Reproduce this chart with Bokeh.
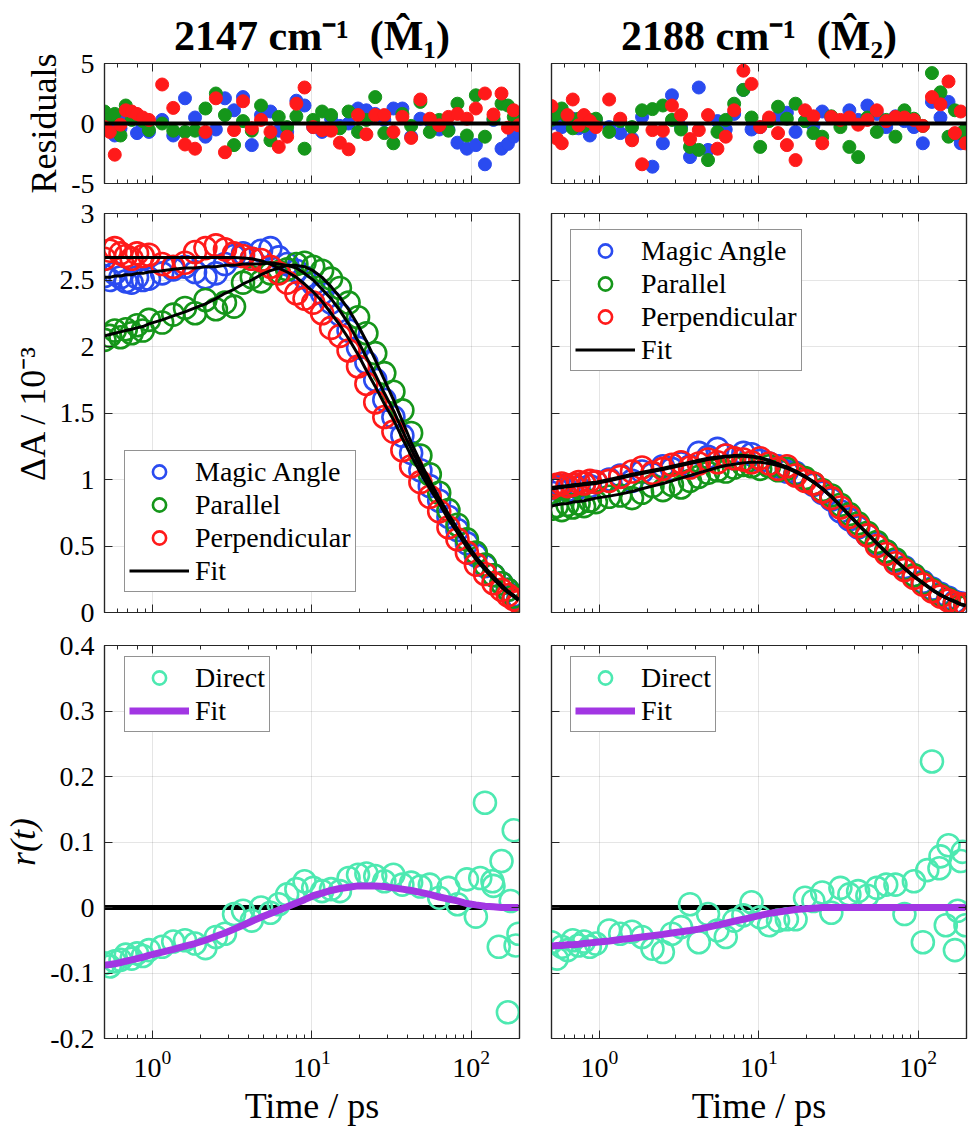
from bokeh.plotting import figure
from bokeh.models import (Range1d, LogAxis, LinearAxis, FixedTicker, LogTicker,
                          CustomJSTickFormatter, Legend, LegendItem, Span)
from bokeh.layouts import gridplot
from bokeh.embed import file_html
from bokeh.resources import INLINE

# ---------------- data ----------------
T = [0.5, 0.54, 0.58, 0.63, 0.68, 0.74, 0.8, 0.87, 0.95, 1.15,
     1.35, 1.6, 1.85, 2.15, 2.5, 2.85, 3.25, 3.7, 4.2, 4.8,
     5.5, 6.2, 7.0, 8.0, 9.0, 10.2, 11.6, 13.2, 15, 17,
     19.5, 22, 25, 28.5, 32.5, 37, 42, 48, 55, 63,
     72, 82, 94, 107, 122, 138, 155, 170, 185, 198]
T_TAIL = [114, 136, 149, 177, 190]
X_LIMITS = [0.5, 201]

titles = ["2147 cm\u207b\u00b9\u2002(M\u0302\u2081)", "2188 cm\u207b\u00b9\u2002(M\u0302\u2082)"]
series_names = ["Magic Angle", "Parallel", "Perpendicular", "Fit"]
aniso_names = ["Direct", "Fit"]

res_ticks = [-5, 0, 5]
da_ticks = [0, 0.5, 1, 1.5, 2, 2.5, 3]
r_ticks = [-0.2, -0.1, 0, 0.1, 0.2, 0.3, 0.4]

# residuals, 2147
res_magic_2147 = [-0.3, 0.2, -1.0, -0.4, 0.5, 0.8, -0.8, -0.3, -0.7, 0.3,
                  -1.0, 2.1, 0.5, -1.1, -0.5, 2.1, 1.1, 2.2, -1.8, 0.7,
                  1.0, -0.6, -0.7, 1.9, 1.5, -0.3, -0.7, 0.4, -0.2, 0.0,
                  1.25, 1.1, 0.8, 0.3, 1.25, 1.25, -1.1, 0.4, 0.2, -0.5,
                  -0.5, -1.6, -2.1, -1.8, -3.4, 0.3, -2.1, -1.7, -1.1, -0.7]
res_par_2147 = [1.0, 0.4, 0.8, -1.0, 1.5, 0.3, 0.5, 0.2, -0.55, 0.0,
                -0.6, -0.7, -0.6, 1.25, 2.5, 0.7, -1.8, 0.2, -0.6, 1.5,
                -1.4, 0.55, -0.3, 0.6, -2.1, 0.3, 1.0, 0.7, -0.4, 1.0,
                -0.7, 0.3, 2.2, -0.8, -1.65, 0.8, -0.2, 1.8, -0.7, 0.3,
                -0.6, 1.65, -1.0, 2.35, -1.1, 0.4, 1.65, 1.5, 0.55, 0.2]
res_perp_2147 = [-0.3, -0.7, -2.6, -0.1, 1.1, 1.0, 0.8, 0.5, 0.3, 3.25,
                 1.3, -1.75, -2.1, -0.7, 2.1, -2.4, -0.55, 1.85, -0.4, 0.3,
                 -0.7, -1.95, -1.1, 1.65, 3.0, -0.3, -0.55, -0.6, -1.6, -2.15,
                 0.7, -0.9, 0.7, 0.7, -0.7, 0.55, -1.2, 2.0, 0.4, -0.15,
                 0.55, 0.8, 0.4, 1.25, 2.5, 0.75, 2.5, -0.35, 1.1, -0.15]
# residuals, 2188
res_magic_2188 = [0.0, 0.6, -0.3, 0.2, 0.4, -0.4, -0.2, -1.0, 0.3, -0.3,
                  -0.8, -1.25, 0.55, -3.6, -1.65, 2.35, -0.3, -2.8, 3.0, -2.2,
                  0.2, -0.5, 0.8, 2.8, -0.5, -0.3, 0.3, 0.55, 0.9, -0.7,
                  0.2, -0.2, 1.0, 0.5, 0.1, 1.1, 0.3, 1.5, 0.8, -0.3,
                  0.6, 0.2, -0.3, -1.65, 1.8, 0.5, 1.8, -0.9, -1.65, -0.7]
res_par_2188 = [0.3, 0.8, 1.25, 0.5, -0.4, 0.4, -0.2, 0.3, 0.4, -0.7,
                0.2, -0.3, 1.1, 1.2, 1.5, 0.3, -0.5, -1.95, -2.2, -3.05,
                -0.7, 0.3, 1.65, 2.8, 0.5, -1.95, 0.2, 1.4, 0.4, 1.65,
                0.2, -0.8, -1.1, 0.6, -0.3, -1.95, -2.8, 0.5, -0.7, 0.3,
                -1.1, 1.1, 0.4, -0.2, 4.2, 2.6, -1.1, 1.1, -0.8, -0.5]
res_perp_2188 = [1.45, -1.25, -1.65, 0.7, 2.0, -0.15, 0.7, 0.2, -0.3, 2.0,
                 0.4, -1.4, -3.4, -0.55, -0.6, 1.5, 0.7, -1.3, -0.55, 0.7,
                 -2.1, -1.1, 1.1, 4.4, 3.3, -0.3, 0.5, -0.8, -1.8, -3.05,
                 1.1, 0.6, -1.65, 0.55, 0.3, 0.5, -0.1, 0.3, 1.1, 0.2,
                 0.55, 0.5, 0.3, -0.2, 2.2, 1.6, 3.5, -0.8, 1.0, -1.65]

# transient absorption (x 1e-3), 2147
magic_2147 = [2.53, 2.50, 2.55, 2.52, 2.49, 2.48, 2.52, 2.50, 2.51, 2.55,
              2.58, 2.60, 2.56, 2.52, 2.55, 2.62, 2.68, 2.70, 2.66, 2.72,
              2.74, 2.67, 2.62, 2.57, 2.52, 2.47, 2.40, 2.33, 2.24, 2.12,
              1.99, 1.88, 1.75, 1.60, 1.47, 1.33, 1.20, 1.07, 0.95, 0.84,
              0.72, 0.62, 0.52, 0.43, 0.35, 0.28, 0.22, 0.17, 0.13, 0.11]
par_2147 = [2.05, 2.08, 2.12, 2.07, 2.13, 2.10, 2.16, 2.12, 2.20, 2.18,
            2.24, 2.29, 2.25, 2.35, 2.28, 2.33, 2.30, 2.48, 2.52, 2.49,
            2.55, 2.56, 2.58, 2.62, 2.63, 2.60, 2.57, 2.51, 2.44, 2.33,
            2.22, 2.10, 1.95, 1.80, 1.66, 1.52, 1.35, 1.18, 1.04, 0.90,
            0.77, 0.66, 0.55, 0.45, 0.36, 0.28, 0.22, 0.17, 0.12, 0.09]
perp_2147 = [2.66, 2.72, 2.74, 2.70, 2.68, 2.66, 2.70, 2.68, 2.69, 2.62,
             2.60, 2.63, 2.71, 2.74, 2.76, 2.73, 2.70, 2.68, 2.66, 2.65,
             2.60, 2.55, 2.48, 2.40, 2.36, 2.33, 2.25, 2.14, 2.08, 1.97,
             1.85, 1.72, 1.58, 1.47, 1.36, 1.22, 1.10, 0.98, 0.87, 0.76,
             0.64, 0.55, 0.45, 0.36, 0.29, 0.22, 0.17, 0.13, 0.10, 0.08]
fit_magic_2147 = [2.52, 2.52, 2.53, 2.53, 2.54, 2.54, 2.55, 2.55, 2.56, 2.57,
                  2.58, 2.59, 2.59, 2.60, 2.60, 2.61, 2.61, 2.62, 2.62, 2.62,
                  2.63, 2.62, 2.61, 2.59, 2.55, 2.50, 2.43, 2.36, 2.27, 2.17,
                  2.04, 1.92, 1.79, 1.65, 1.52, 1.37, 1.23, 1.09, 0.96, 0.84,
                  0.72, 0.61, 0.50, 0.41, 0.33, 0.26, 0.20, 0.16, 0.12, 0.10]
fit_par_2147 = [2.08, 2.09, 2.10, 2.11, 2.12, 2.13, 2.14, 2.15, 2.17, 2.20,
                2.23, 2.26, 2.29, 2.32, 2.36, 2.40, 2.43, 2.47, 2.50, 2.54,
                2.57, 2.59, 2.61, 2.61, 2.60, 2.57, 2.52, 2.45, 2.37, 2.28,
                2.16, 2.04, 1.90, 1.75, 1.60, 1.44, 1.28, 1.13, 0.99, 0.86,
                0.74, 0.63, 0.52, 0.42, 0.34, 0.27, 0.21, 0.16, 0.13, 0.10]
fit_perp_2147 = [2.67, 2.67, 2.67, 2.67, 2.67, 2.67, 2.67, 2.67, 2.67, 2.67,
                 2.67, 2.67, 2.67, 2.67, 2.67, 2.67, 2.67, 2.665, 2.66, 2.645,
                 2.62, 2.59, 2.56, 2.52, 2.47, 2.41, 2.34, 2.25, 2.16, 2.06,
                 1.94, 1.82, 1.70, 1.57, 1.45, 1.31, 1.18, 1.05, 0.93, 0.82,
                 0.70, 0.60, 0.49, 0.40, 0.32, 0.25, 0.19, 0.15, 0.12, 0.09]

# transient absorption (x 1e-3), 2188
magic_2188 = [0.90, 0.93, 0.95, 0.92, 0.96, 0.94, 0.97, 0.95, 0.98, 1.00,
              1.03, 0.99, 1.06, 1.04, 1.10, 1.08, 1.12, 1.10, 1.20, 1.17,
              1.23, 1.18, 1.16, 1.20, 1.19, 1.14, 1.12, 1.10, 1.06, 1.05,
              1.00, 0.96, 0.90, 0.85, 0.76, 0.70, 0.64, 0.58, 0.52, 0.46,
              0.39, 0.34, 0.28, 0.23, 0.18, 0.14, 0.11, 0.08, 0.07, 0.06]
par_2188 = [0.78, 0.80, 0.77, 0.81, 0.79, 0.82, 0.80, 0.84, 0.83, 0.87,
            0.88, 0.86, 0.90, 0.95, 0.92, 0.96, 0.94, 0.99, 1.02, 1.05,
            1.07, 1.06, 1.09, 1.11, 1.10, 1.08, 1.10, 1.07, 1.08, 1.04,
            1.01, 0.97, 0.92, 0.88, 0.81, 0.74, 0.67, 0.60, 0.53, 0.46,
            0.40, 0.33, 0.28, 0.22, 0.17, 0.13, 0.10, 0.07, 0.05, 0.04]
perp_2188 = [0.94, 0.96, 0.97, 0.95, 0.96, 0.98, 0.97, 0.99, 0.98, 0.99,
             1.02, 1.06, 1.09, 1.05, 1.08, 1.11, 1.13, 1.09, 1.12, 1.15,
             1.13, 1.18, 1.16, 1.15, 1.13, 1.16, 1.12, 1.08, 1.10, 1.03,
             0.99, 0.97, 0.91, 0.86, 0.79, 0.72, 0.65, 0.58, 0.50, 0.44,
             0.37, 0.32, 0.26, 0.21, 0.16, 0.12, 0.09, 0.07, 0.06, 0.06]
fit_magic_2188 = [0.94, 0.945, 0.95, 0.955, 0.96, 0.965, 0.97, 0.975, 0.98, 1.00,
                  1.02, 1.04, 1.055, 1.07, 1.085, 1.10, 1.115, 1.13, 1.145, 1.16,
                  1.17, 1.175, 1.18, 1.18, 1.175, 1.165, 1.145, 1.12, 1.095, 1.065,
                  1.025, 0.985, 0.935, 0.875, 0.805, 0.735, 0.665, 0.595, 0.525, 0.455,
                  0.395, 0.335, 0.275, 0.225, 0.175, 0.135, 0.105, 0.085, 0.065, 0.055]
fit_par_2188 = [0.80, 0.81, 0.815, 0.82, 0.83, 0.835, 0.84, 0.85, 0.86, 0.875,
                0.89, 0.91, 0.93, 0.95, 0.97, 0.99, 1.01, 1.03, 1.05, 1.07,
                1.09, 1.105, 1.115, 1.125, 1.13, 1.13, 1.12, 1.105, 1.085, 1.055,
                1.02, 0.98, 0.93, 0.87, 0.80, 0.73, 0.66, 0.59, 0.52, 0.45,
                0.39, 0.33, 0.27, 0.22, 0.17, 0.13, 0.10, 0.08, 0.06, 0.05]
fit_perp_2188 = [0.93, 0.935, 0.94, 0.945, 0.95, 0.955, 0.96, 0.965, 0.97, 0.99,
                 1.01, 1.03, 1.045, 1.06, 1.075, 1.09, 1.105, 1.12, 1.135, 1.15,
                 1.16, 1.17, 1.175, 1.175, 1.17, 1.16, 1.14, 1.115, 1.09, 1.06,
                 1.02, 0.98, 0.93, 0.87, 0.80, 0.73, 0.66, 0.59, 0.52, 0.45,
                 0.39, 0.33, 0.27, 0.22, 0.17, 0.13, 0.10, 0.08, 0.06, 0.05]

# anisotropy r(t)
direct_2147 = [-0.085, -0.090, -0.082, -0.080, -0.072, -0.078, -0.070, -0.074, -0.065, -0.060,
               -0.052, -0.050, -0.055, -0.062, -0.045, -0.040, -0.010, -0.005, -0.020, 0.000,
               -0.008, 0.005, 0.020, 0.028, 0.040, 0.030, 0.025, 0.028, 0.025, 0.045,
               0.050, 0.052, 0.048, 0.040, 0.050, 0.035, 0.038, 0.032, 0.035, 0.015,
               0.030, 0.005, 0.043, -0.014, 0.160, 0.033, 0.071, -0.160, 0.118, -0.040]
direct_tail_2147 = [0.045, 0.040, -0.060, 0.010, -0.058]
fit_r_2147 = [-0.088, -0.087, -0.086, -0.084, -0.082, -0.080, -0.078, -0.076, -0.073, -0.068,
              -0.064, -0.059, -0.055, -0.050, -0.044, -0.039, -0.033, -0.027, -0.021, -0.015,
              -0.009, -0.004, 0.001, 0.007, 0.012, 0.018, 0.022, 0.026, 0.029, 0.031,
              0.033, 0.033, 0.033, 0.032, 0.030, 0.028, 0.026, 0.023, 0.020, 0.016,
              0.013, 0.010, 0.006, 0.004, 0.002, 0.001, 0.0, 0.0, 0.0, 0.0]
direct_2188 = [-0.053, -0.078, -0.060, -0.065, -0.050, -0.058, -0.052, -0.060, -0.055, -0.035,
               -0.040, -0.037, -0.045, -0.063, -0.068, -0.040, -0.030, 0.005, -0.053, -0.010,
               -0.035, -0.045, -0.020, -0.012, 0.008, -0.015, -0.027, -0.020, -0.018, -0.018,
               0.015, 0.010, 0.023, -0.008, 0.030, 0.020, 0.025, 0.018, 0.030, 0.035,
               0.035, -0.010, 0.040, -0.053, 0.223, 0.078, 0.095, -0.065, 0.071, -0.027]
direct_tail_2188 = [0.057, 0.060, -0.027, -0.005, 0.085]
fit_r_2188 = [-0.059, -0.058, -0.058, -0.057, -0.057, -0.056, -0.055, -0.054, -0.053, -0.051,
              -0.049, -0.047, -0.045, -0.043, -0.041, -0.039, -0.037, -0.035, -0.033, -0.030,
              -0.027, -0.024, -0.021, -0.018, -0.015, -0.012, -0.009, -0.007, -0.005, -0.003,
              -0.002, -0.001, 0.0, 0.0, 0.0, 0.0, 0.0, 0.0, 0.0, 0.0,
              0.0, 0.0, 0.0, 0.0, 0.0, 0.0, 0.0, 0.0, 0.0, 0.0]

# ---------------- style ----------------
FONT = "Liberation Serif"
FRAME = "#262626"
BLUE = "#2a4bf0"
GREEN = "#15961a"
RED = "#ff1a1a"
AQUA = "#4de9b1"
PURPLE = "#a236e3"

blank = CustomJSTickFormatter(code="return ''")
plain = CustomJSTickFormatter(code="return tick.toString()")


def style_axis(ax, labels):
    ax.axis_line_color = FRAME
    ax.axis_line_width = 1.2
    ax.major_tick_line_color = FRAME
    ax.minor_tick_line_color = FRAME
    ax.major_tick_in = 8
    ax.major_tick_out = 0
    ax.minor_tick_in = 4
    ax.minor_tick_out = 0
    ax.major_label_text_font = FONT
    ax.major_label_text_font_size = "28px"
    ax.major_label_text_color = "black"
    ax.axis_label_text_font = FONT
    ax.axis_label_text_font_size = "36px"
    ax.axis_label_text_font_style = "normal"
    ax.axis_label_text_color = "black"
    if not labels:
        ax.formatter = blank
        ax.major_label_standoff = 0


def make_fig(col, row, yr, yticks, ylabel=None, title=None):
    left = col == 0
    p = figure(width=535 if left else 439, height=[198, 430, 500][row],
               x_axis_type="log", x_range=Range1d(*X_LIMITS),
               y_range=Range1d(yr[0], yr[-1]),
               output_backend="svg", toolbar_location=None,
               title=title,
               min_border_left=104 if left else 16,
               min_border_right=16 if left else 8,
               min_border_top=[63, 15, 17][row],
               min_border_bottom=[15, 16, 85][row])
    p.outline_line_color = FRAME
    p.outline_line_width = 1.2
    p.background_fill_color = "white"
    p.border_fill_color = "white"
    if title is not None:
        p.title.align = "center"
        p.title.text_font = FONT
        p.title.text_font_size = "42px"
        p.title.text_font_style = "bold"
        p.title.text_color = "black"
    xb = p.xaxis[0]
    style_axis(xb, row == 2)
    if row == 2:
        xb.axis_label = "Time / ps"
        xb.major_label_standoff = 12
        xb.axis_label_standoff = 6
    yl = p.yaxis[0]
    yl.ticker = FixedTicker(ticks=yticks)
    style_axis(yl, left)
    yl.minor_tick_line_color = None
    if left:
        yl.formatter = plain
        yl.major_label_standoff = 10
        yl.axis_label_standoff = 4
        if ylabel:
            yl.axis_label = ylabel
    xt = LogAxis(ticker=LogTicker())
    style_axis(xt, False)
    p.add_layout(xt, "above")
    yr_ax = LinearAxis(ticker=FixedTicker(ticks=yticks))
    style_axis(yr_ax, False)
    yr_ax.minor_tick_line_color = None
    p.add_layout(yr_ax, "right")
    p.xgrid.grid_line_color = FRAME
    p.xgrid.grid_line_alpha = 0.12
    p.ygrid.ticker = FixedTicker(ticks=yticks)
    p.ygrid.grid_line_color = FRAME
    p.ygrid.grid_line_alpha = 0.12
    return p


def style_legend(leg):
    leg.label_text_font = FONT
    leg.label_text_font_size = "28px"
    leg.label_text_color = "black"
    leg.border_line_color = FRAME
    leg.border_line_width = 1.2
    leg.background_fill_color = "white"
    leg.background_fill_alpha = 1
    leg.padding = 4
    leg.spacing = 0
    leg.margin = 0
    leg.glyph_width = 60
    leg.glyph_height = 33
    leg.label_height = 33
    leg.label_standoff = 6


def residual_panel(col, resids, ylabel, title):
    p = make_fig(col, 0, res_ticks, res_ticks, ylabel, title)
    for vals, c in zip(resids, [BLUE, GREEN, RED]):
        p.scatter(T, vals, marker="circle", size=13, fill_color=c, line_color=c)
    p.add_layout(Span(location=0, dimension="width", line_color="black", line_width=4))
    return p


def ta_panel(col, data, fits, loc, ylabel=None):
    p = make_fig(col, 1, da_ticks, da_ticks, ylabel)
    rs = []
    for vals, c in zip(data, [BLUE, GREEN, RED]):
        rs.append(p.scatter(T, vals, marker="circle", size=22, fill_color=None,
                            line_color=c, line_width=2.6))
    for f in fits:
        rf = p.line(T, f, line_color="black", line_width=3)
    items = [LegendItem(label=n, renderers=[r]) for n, r in zip(series_names, rs + [rf])]
    leg = Legend(items=items, location=loc)
    style_legend(leg)
    p.add_layout(leg)
    return p


def r_panel(col, direct, tail, fit, loc, ylabel=None):
    p = make_fig(col, 2, r_ticks, r_ticks, ylabel)
    p.add_layout(Span(location=0, dimension="width", line_color="black",
                      line_width=5, level="underlay"))
    rd = p.scatter(T, direct, marker="circle", size=22, fill_color=None,
                   line_color=AQUA, line_width=2.6)
    p.scatter(T_TAIL, tail, marker="circle", size=22, fill_color=None,
              line_color=AQUA, line_width=2.6)
    rf = p.line(T, fit, line_color=PURPLE, line_width=7)
    items = [LegendItem(label=n, renderers=[r]) for n, r in zip(aniso_names, [rd, rf])]
    leg = Legend(items=items, location=loc)
    style_legend(leg)
    p.add_layout(leg)
    return p


p11 = residual_panel(0, [res_magic_2147, res_par_2147, res_perp_2147], "Residuals", titles[0])
p12 = residual_panel(1, [res_magic_2188, res_par_2188, res_perp_2188], None, titles[1])
p21 = ta_panel(0, [magic_2147, par_2147, perp_2147],
               [fit_par_2147, fit_magic_2147, fit_perp_2147], (20, 20), "\u0394A / 10\u207b\u00b3")
p22 = ta_panel(1, [magic_2188, par_2188, perp_2188],
               [fit_par_2188, fit_magic_2188, fit_perp_2188], (19, 241))
p31 = r_panel(0, direct_2147, direct_tail_2147, fit_r_2147, (20, 306), "r(t)")
p31.yaxis[0].axis_label_text_font_style = "italic"
p32 = r_panel(1, direct_2188, direct_tail_2188, fit_r_2188, (19, 306))

grid = gridplot([[p11, p12], [p21, p22], [p31, p32]], toolbar_location=None)
open("out.html", "w").write(file_html(grid, INLINE))
